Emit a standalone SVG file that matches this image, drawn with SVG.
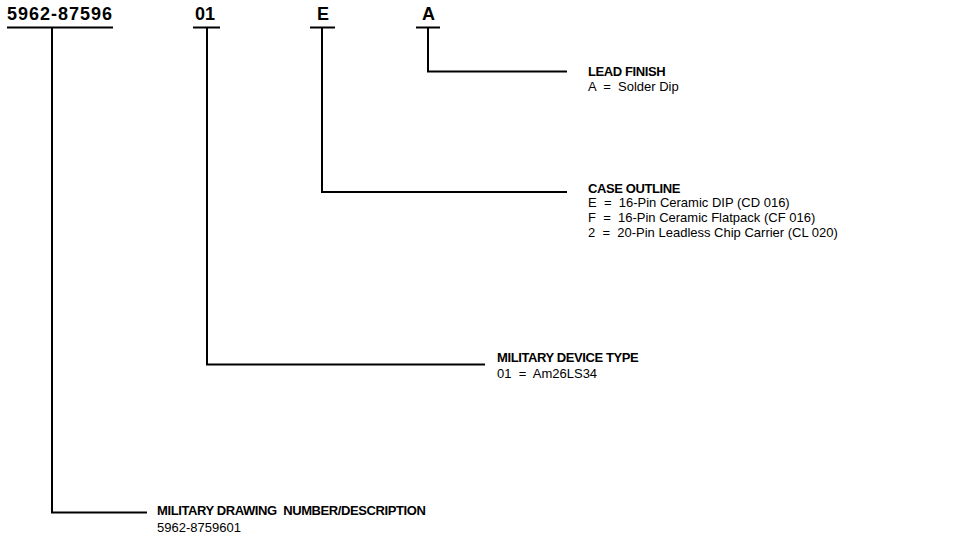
<svg xmlns="http://www.w3.org/2000/svg" width="978" height="545" viewBox="0 0 978 545">
<style>
.code{font-family:"Liberation Sans",Arial,sans-serif;font-weight:bold;font-size:18px;fill:#000}
.hd{font-family:"Liberation Sans",Arial,sans-serif;font-weight:bold;font-size:13px;letter-spacing:-0.4px;fill:#000}
.tx{font-family:"Liberation Sans",Arial,sans-serif;font-size:13px;fill:#000}
.ln{stroke:#000;stroke-width:2;fill:none}
</style>
<rect width="978" height="545" fill="#fff"/>
<g id="codes">
<g id="code-drawing"><text class="code" x="7" y="20" textLength="105">5962-87596</text><line class="ln" x1="7" y1="27.5" x2="113" y2="27.5"/></g>
<g id="code-device"><text class="code" x="195" y="20">01</text><line class="ln" x1="193" y1="27.5" x2="220" y2="27.5"/></g>
<g id="code-case"><text class="code" x="317" y="20">E</text><line class="ln" x1="310" y1="27.5" x2="335" y2="27.5"/></g>
<g id="code-lead"><text class="code" x="422" y="20">A</text><line class="ln" x1="416" y1="27.5" x2="440" y2="27.5"/></g>
</g>
<g id="connectors">
<polyline class="ln" points="428,28 428,71.5 567,71.5"/>
<polyline class="ln" points="322,28 322,192 567,192"/>
<polyline class="ln" points="207,28 207,364.5 485,364.5"/>
<polyline class="ln" points="52,28 52,512.5 147,512.5"/>
</g>
<g id="lead-finish">
<text class="hd" x="588" y="76">LEAD FINISH</text>
<text class="tx" x="588" y="91" xml:space="preserve">A  =  Solder Dip</text>
</g>
<g id="case-outline">
<text class="hd" x="588" y="193">CASE OUTLINE</text>
<text class="tx" x="588" y="207" xml:space="preserve">E  =  16-Pin Ceramic DIP (CD 016)</text>
<text class="tx" x="588" y="222" xml:space="preserve">F  =  16-Pin Ceramic Flatpack (CF 016)</text>
<text class="tx" x="588" y="237" xml:space="preserve">2  =  20-Pin Leadless Chip Carrier (CL 020)</text>
</g>
<g id="device-type">
<text class="hd" x="497" y="362">MILITARY DEVICE TYPE</text>
<text class="tx" x="497" y="378" xml:space="preserve">01  =  Am26LS34</text>
</g>
<g id="drawing-number">
<text class="hd" x="157" y="515" xml:space="preserve">MILITARY DRAWING  NUMBER/DESCRIPTION</text>
<text class="tx" x="157" y="532">5962-8759601</text>
</g>
</svg>
